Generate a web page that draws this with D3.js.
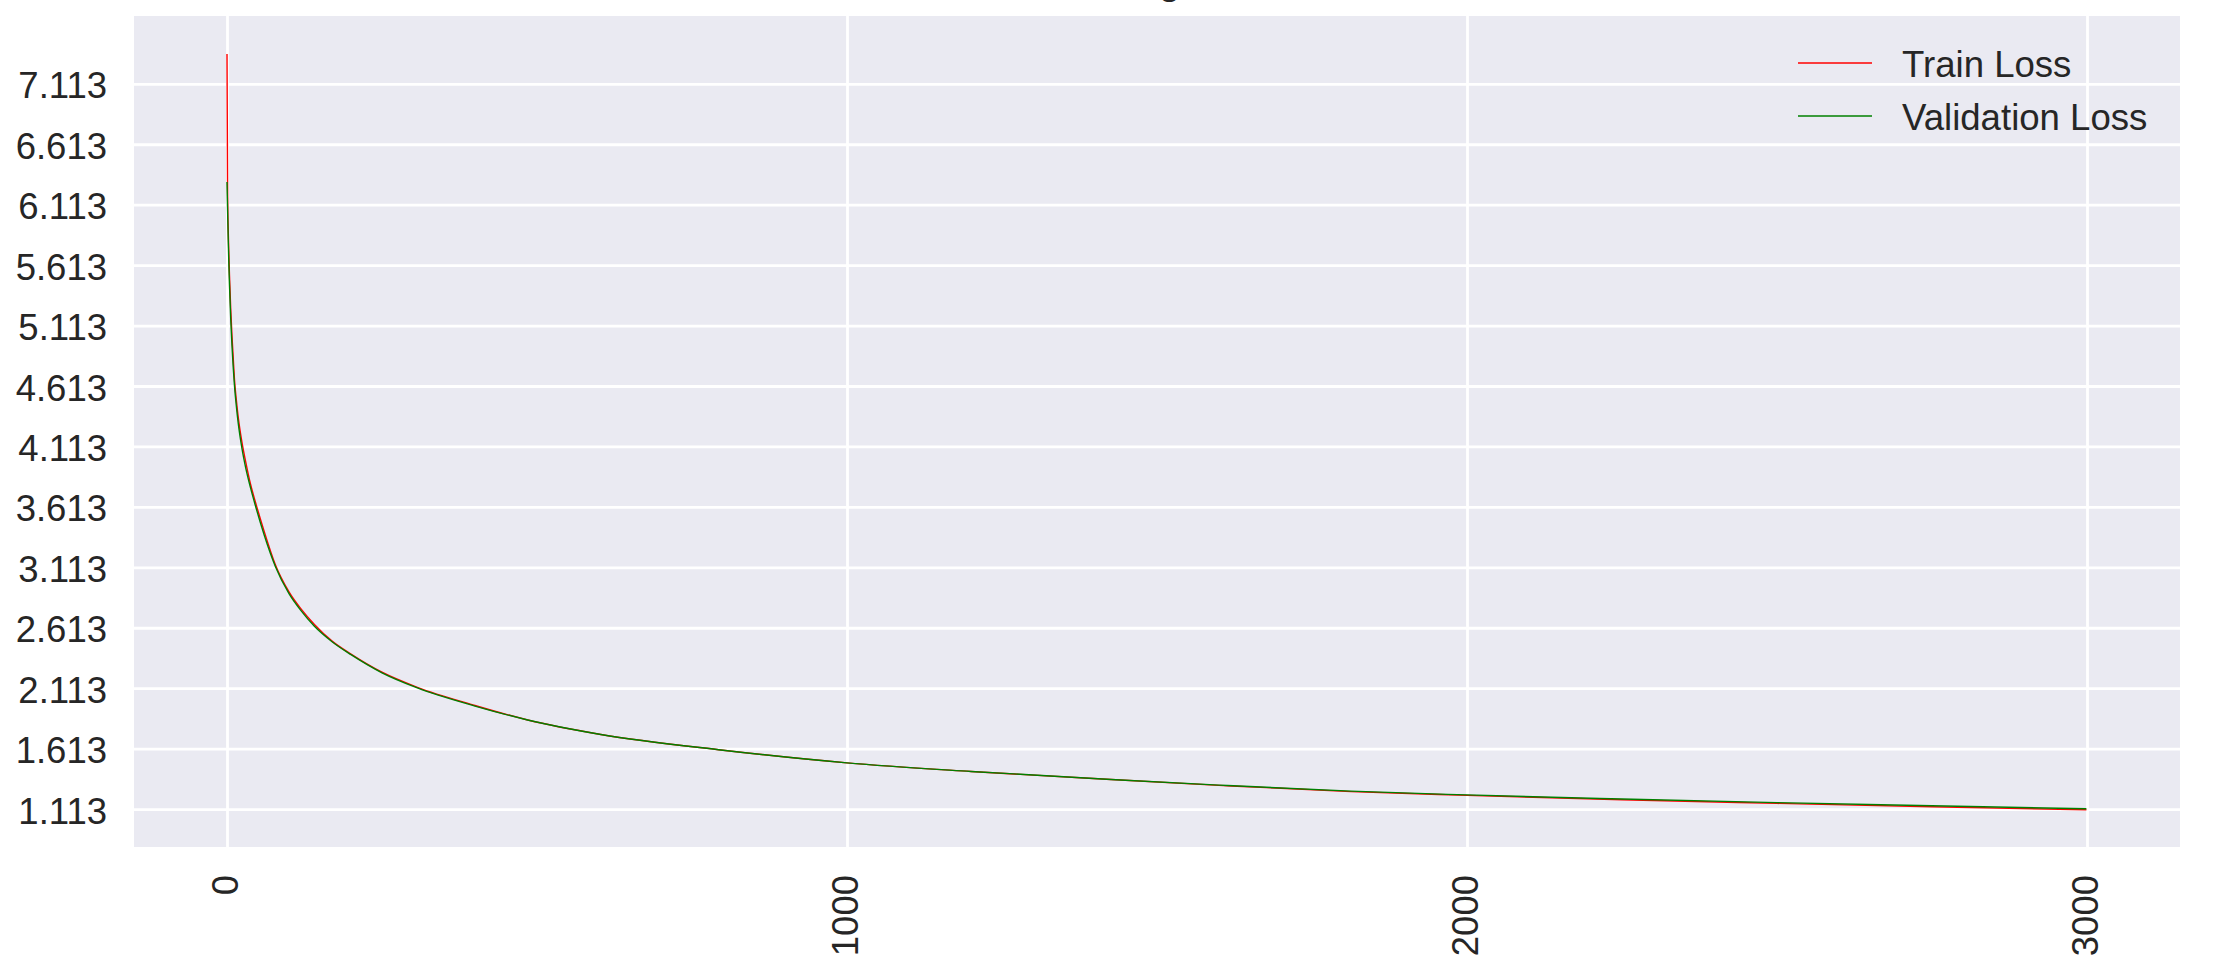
<!DOCTYPE html>
<html>
<head>
<meta charset="utf-8">
<script src="https://cdn.jsdelivr.net/npm/d3@7"></script>
<style>
    body { margin: 0; background: #fff; }
    svg { display: block; font-family: "Liberation Sans", Arial, sans-serif; }
</style>
</head>
<body>
<div class="chart-box"></div>
<script>
// data
const epochs = [0, 1, 2, 3, 4, 6, 8, 10, 12, 15, 18, 24, 30, 38, 46, 60, 78, 100, 120, 141,
    170, 200, 250, 307, 400, 485, 603, 800, 1000, 1200, 1426, 1600, 1813, 2000, 2250, 2500, 2750, 2999];
const trainLoss = [7.36, 6.20, 5.90, 5.70, 5.53, 5.25, 5.03, 4.85, 4.67, 4.50, 4.36, 4.15, 3.99, 3.80, 3.65, 3.41, 3.135, 2.91, 2.765, 2.64,
    2.50, 2.395, 2.245, 2.12, 1.97, 1.85, 1.73, 1.60, 1.495, 1.424, 1.357, 1.309, 1.257, 1.226, 1.19, 1.16, 1.132, 1.107];
const valLoss = [6.30, 6.06, 5.82, 5.62, 5.45, 5.17, 4.95, 4.77, 4.62, 4.45, 4.31, 4.10, 3.94, 3.77, 3.62, 3.38, 3.12, 2.895, 2.75, 2.625,
    2.495, 2.39, 2.24, 2.115, 1.965, 1.85, 1.73, 1.60, 1.495, 1.424, 1.357, 1.311, 1.261, 1.23, 1.196, 1.166, 1.14, 1.115];
const yTicks = [1.113, 1.613, 2.113, 2.613, 3.113, 3.613, 4.113, 4.613, 5.113, 5.613, 6.113, 6.613, 7.113];
const xTicks = [0, 1000, 2000, 3000];
const seriesNames = ["Train Loss", "Validation Loss"];
const seriesColors = ["red", "green"];

const W = 2216, H = 964;
const plotLeft = 134, plotRight = 2180, plotTop = 16, plotBottom = 847;

const svg = d3.select(".chart-box").append("svg")
    .attr("width", W)
    .attr("height", H);

//scales
const xScale = d3.scaleLinear().domain([-150, 3150]).range([plotLeft, plotRight]);
const yScale = d3.scaleLinear().domain([0.799, 7.674]).range([plotBottom, plotTop]);

//plot background
svg.append("rect")
    .attr("x", plotLeft).attr("y", plotTop)
    .attr("width", plotRight - plotLeft).attr("height", plotBottom - plotTop)
    .attr("fill", "#eaeaf2");

//grid
svg.append("g")
    .attr("transform", "translate(0," + plotBottom + ")")
    .call(d3.axisBottom(xScale).tickValues(xTicks).tickSize(-(plotBottom - plotTop)).tickFormat(""))
    .call(g => g.select(".domain").remove())
    .selectAll("line").attr("stroke", "#fff").attr("stroke-width", 2.8);
svg.append("g")
    .attr("transform", "translate(" + plotLeft + ",0)")
    .call(d3.axisLeft(yScale).tickValues(yTicks).tickSize(-(plotRight - plotLeft)).tickFormat(""))
    .call(g => g.select(".domain").remove())
    .selectAll("line").attr("stroke", "#fff").attr("stroke-width", 2.8);

//tick labels
svg.append("g").selectAll("text")
    .data(yTicks)
    .enter().append("text")
    .attr("x", 107)
    .attr("y", d => yScale(d))
    .attr("dy", "0.4em")
    .attr("text-anchor", "end")
    .attr("font-size", "36.5px")
    .attr("fill", "#262626")
    .text(d => d.toFixed(3));

svg.append("g").selectAll("text")
    .data(xTicks)
    .enter().append("text")
    .attr("transform", d => "translate(" + xScale(d) + ",875) rotate(-90)")
    .attr("dy", "0.3em")
    .attr("text-anchor", "end")
    .attr("font-size", "36.5px")
    .attr("fill", "#262626")
    .text(d => d);

//title (cut off at the top edge, as in the original)
svg.append("text")
    .attr("x", (plotLeft + plotRight) / 2)
    .attr("y", -6)
    .attr("text-anchor", "middle")
    .attr("font-size", "40px")
    .attr("fill", "#262626")
    .text("Training Loss");

//lines
const line = d3.line()
    .x((d, i) => xScale(epochs[i]))
    .y(d => yScale(d))
    .curve(d3.curveMonotoneX);

[trainLoss, valLoss].forEach((vals, i) => {
    svg.append("path")
        .datum(vals)
        .attr("fill", "none")
        .attr("stroke", seriesColors[i])
        .attr("stroke-width", 1.4)
        .attr("d", line);
});

//legend
const legend = svg.append("g");
seriesNames.forEach((name, i) => {
    const ly = 63 + i * 53;
    legend.append("line")
        .attr("x1", 1798).attr("x2", 1872)
        .attr("y1", ly).attr("y2", ly)
        .attr("stroke", seriesColors[i])
        .attr("stroke-width", 1.4);
    legend.append("text")
        .attr("x", 1902)
        .attr("y", ly)
        .attr("dy", "0.37em")
        .attr("font-size", "36.6px")
        .attr("fill", "#262626")
        .text(name);
});
</script>
</body>
</html>
